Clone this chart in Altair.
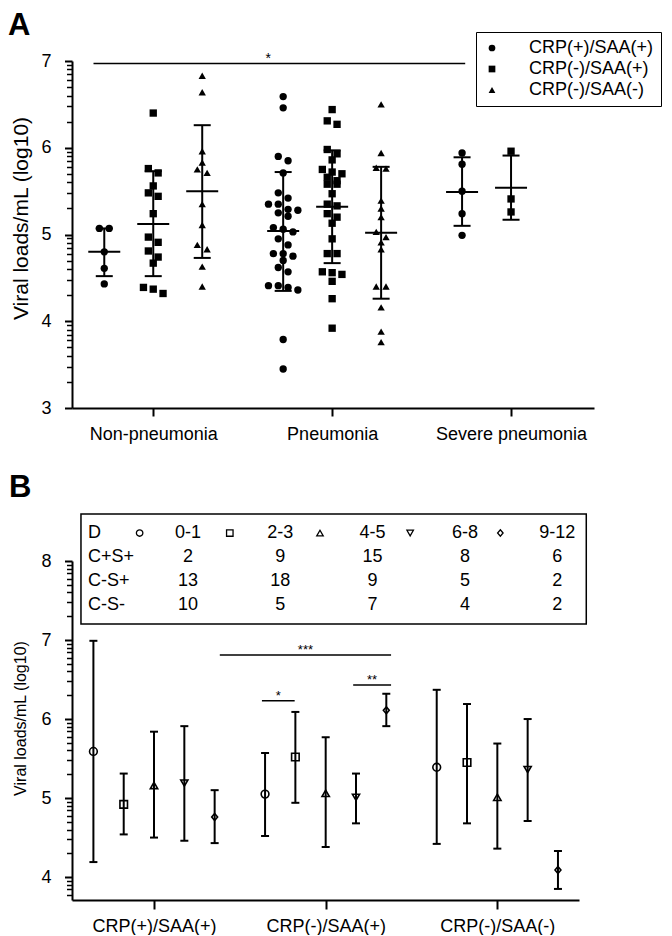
import json
import altair as alt
import numpy as np
import pandas as pd

FONT = "Liberation Sans"

# ---------------- Panel A: individual viral loads (log10) ----------------
group_names = ["Non-pneumonia", "Pneumonia", "Severe pneumonia"]
cat_names = ["CRP(+)/SAA(+)", "CRP(-)/SAA(+)", "CRP(-)/SAA(-)"]

nonpneu_cpsp = [5.07, 5.07, 4.80, 4.61, 4.43]
nonpneu_cmsp = [6.40, 5.76, 5.71, 5.56, 5.48, 5.44, 5.24, 4.97, 4.91, 4.81, 4.74,
                4.67, 4.39, 4.32, 4.37]
nonpneu_cmsm = [6.83, 6.64, 5.96, 5.83, 5.75, 5.71, 5.35, 5.11, 4.88, 4.83, 4.63, 4.40]
pneu_cpsp = [6.59, 6.46, 5.90, 5.85, 5.71, 5.48, 5.42, 5.35, 5.35, 5.29, 5.25, 5.21,
             5.28, 5.08, 5.03, 5.06, 4.95, 4.88, 4.78, 4.75, 4.78, 4.70, 4.62, 4.57,
             4.41, 4.36, 4.39, 4.41, 3.79, 3.45]
pneu_cmsp = [6.44, 6.31, 6.27, 5.98, 5.93, 5.86, 5.75, 5.72, 5.70, 5.66, 5.62, 5.58,
             5.58, 5.47, 5.35, 5.33, 5.24, 5.20, 5.13, 4.95, 4.78, 4.78, 4.57, 4.56,
             4.54, 4.46, 4.26, 3.92]
pneu_cmsm = [6.50, 5.94, 5.77, 5.76, 5.39, 5.30, 5.20, 5.03, 4.97, 4.91, 4.83, 4.40,
             4.40, 4.16, 3.88, 3.76]
severe_cpsp = [5.94, 5.81, 5.50, 5.24, 4.99]
severe_cmsp = [5.96, 5.41, 5.26]

# mean and mean +/- SD (order: group, category)
a_group = [0, 0, 0, 1, 1, 1, 2, 2]
a_cat = [0, 1, 2, 0, 1, 2, 0, 1]
a_mean = [4.80, 5.12, 5.50, 5.04, 5.32, 5.02, 5.49, 5.54]
a_upper = [5.07, 5.73, 6.26, 5.72, 5.97, 5.78, 5.89, 5.91]
a_lower = [4.52, 4.52, 4.73, 4.35, 4.67, 4.26, 5.10, 5.17]

a_sig_x1 = [-1.22]
a_sig_x2 = [6.37]
a_sig_y = [6.97]
a_sig_tx = [2.35]
a_sig_label = ["*"]

# ---------------- Panel B: mean +/- SD by day of illness ----------------
b_groups = ["CRP(+)/SAA(+)", "CRP(-)/SAA(+)", "CRP(-)/SAA(-)"]
b_days = ["0-1", "2-3", "4-5", "6-8", "9-12"]
b_mean_cpsp = [5.59, 4.92, 5.16, 5.19, 4.76]
b_upper_cpsp = [6.99, 5.31, 5.84, 5.91, 5.10]
b_lower_cpsp = [4.19, 4.54, 4.50, 4.46, 4.43]
b_mean_cmsp = [5.05, 5.52, 5.06, 5.01, 6.11]
b_upper_cmsp = [5.57, 6.09, 5.77, 5.31, 6.32]
b_lower_cmsp = [4.52, 4.94, 4.38, 4.68, 5.91]
b_mean_cmsm = [5.39, 5.45, 5.01, 5.36, 4.09]
b_upper_cmsm = [6.37, 6.19, 5.69, 6.00, 4.33]
b_lower_cmsm = [4.42, 4.68, 4.36, 4.71, 3.85]

table_header = "D"
table_rows = ["C+S+", "C-S+", "C-S-"]
table_cpsp = [2, 9, 15, 8, 6]
table_cmsp = [13, 18, 9, 5, 2]
table_cmsm = [10, 5, 7, 4, 2]

b_sig_x1 = [2.17, 3.56, 6.57]
b_sig_x2 = [7.82, 4.64, 7.82]
b_sig_y = [6.81, 6.23, 6.43]
b_sig_label = ["***", "*", "**"]

# ---------------- layout constants ----------------
A_STEP = 3.653
B_STEP = 5.663
WA, HA = 522, 347
WB, HB = 507, 339
xA = alt.Scale(domain=[-1.659, 9.0], nice=False, zero=False)
yA = alt.Scale(domain=[3, 7], nice=False, zero=False)
xB = alt.Scale(domain=[-2.706, 14.02], nice=False, zero=False)
yB = alt.Scale(domain=[3.71, 8], nice=False, zero=False)

TAB_Y = [8.354, 8.051, 7.741, 7.437]
TAB_LABEL_X = -2.18
TAB_SYM_X0, TAB_SYM_DX = -0.475, 2.975
TAB_NUM_X0, TAB_NUM_DX = 1.12, 3.045
TAB_BOX = dict(x=-2.41, x2=14.26, y=8.595, y2=7.203)
DIAMOND = "M0,-1L0.85,0L0,1L-0.85,0Z"


def swarm_offsets(vals, thr, step):
    order = sorted(range(len(vals)), key=lambda i: -vals[i])
    rows = []
    for i in order:
        if rows and rows[-1][0] - vals[i] < thr:
            rows[-1][1].append(i)
        else:
            rows.append([vals[i], [i]])
    offs = [0.0] * len(vals)
    for _, idx in rows:
        n = len(idx)
        for j, i in enumerate(idx):
            offs[i] = (j - (n - 1) / 2) * step
    return offs


# y axis: major ticks at integers, log-style minor ticks in between
major_a = [3, 4, 5, 6, 7]
major_b = [4, 5, 6, 7, 8]
ticks_a = major_a + [float(round(n + np.log10(k), 4))
                     for n in range(3, 7) for k in range(2, 10)]
ticks_b = major_b + [v for v in (float(round(n + np.log10(k), 4))
                                 for n in range(3, 8) for k in range(2, 10))
                     if 3.71 <= v <= 8]
IS_MAJOR = "abs(datum.value - round(datum.value)) < 0.0001"
tick_size = {"condition": {"test": IS_MAJOR, "value": 7.5}, "value": 5.5}
tick_width = {"condition": {"test": IS_MAJOR, "value": 2}, "value": 1.5}
label_y = "%s ? format(datum.value, 'd') : ''" % IS_MAJOR

label_expr_a = json.dumps(group_names) + "[round(datum.value / %s)]" % A_STEP
label_expr_b = json.dumps(b_groups) + "[round(datum.value / %s)]" % B_STEP

axA_x = alt.Axis(values=[0, A_STEP, 2 * A_STEP], labelExpr=label_expr_a, title=None,
                 tickSize=8, tickWidth=2, labelPadding=9, labelFontSize=18)
axA_y = alt.Axis(values=ticks_a, labelExpr=label_y, title="Viral loads/mL (log10)",
                 tickSize=tick_size, tickWidth=tick_width, labelPadding=13.5,
                 titlePadding=9, titleFontSize=21, labelFontSize=18, titleY=157)
axB_x = alt.Axis(values=[0, B_STEP, 2 * B_STEP], labelExpr=label_expr_b, title=None,
                 tickSize=9, tickWidth=2, labelPadding=8, labelFontSize=18)
axB_y = alt.Axis(values=ticks_b, labelExpr=label_y, title="Viral loads/mL (log10)",
                 tickSize=tick_size, tickWidth=tick_width, labelPadding=13.5,
                 titlePadding=12, titleFontSize=16, labelFontSize=18, titleY=157)


def XA(f):
    return alt.X(f, scale=xA, axis=axA_x)


def YA(f):
    return alt.Y(f, scale=yA, axis=axA_y)


def XB(f):
    return alt.X(f, scale=xB, axis=axB_x)


def YB(f):
    return alt.Y(f, scale=yB, axis=axB_y)


# ---------------- panel A frames ----------------
a_series = [(0, 0, nonpneu_cpsp), (0, 1, nonpneu_cmsp), (0, 2, nonpneu_cmsm),
            (1, 0, pneu_cpsp), (1, 1, pneu_cmsp), (1, 2, pneu_cmsm),
            (2, 0, severe_cpsp), (2, 1, severe_cmsp)]
rows = []
for g, c, vals in a_series:
    offs = swarm_offsets(vals, 0.075, 0.2)
    for v, o in zip(vals, offs):
        rows.append({"x": g * A_STEP + (c - 1) + o, "y": v, "cat": cat_names[c]})
dfA = pd.DataFrame(rows)

dfA_stats = pd.DataFrame({
    "x": [g * A_STEP + (c - 1) for g, c in zip(a_group, a_cat)],
    "mean": a_mean, "upper": a_upper, "lower": a_lower,
})
dfA_sig = pd.DataFrame({"x1": a_sig_x1, "x2": a_sig_x2, "y": a_sig_y,
                        "tx": a_sig_tx, "lab": a_sig_label})

shapeA = alt.Scale(domain=cat_names, range=["circle", "square", "triangle-up"])

pts_a = alt.Chart(dfA).mark_point(filled=True, color="black", opacity=1, size=54).encode(
    x=XA("x:Q"),
    y=YA("y:Q"),
    shape=alt.Shape("cat:N", scale=shapeA, legend=alt.Legend(
        orient="none", legendX=404, legendY=-29, title=None,
        strokeColor="black", padding=7, symbolSize=45, symbolStrokeWidth=0,
        symbolFillColor="black", labelFont=FONT, labelFontSize=18,
        labelColor="black", labelOffset=28, rowPadding=3)),
)

vbar_a = alt.Chart(dfA_stats).mark_rule(color="black", strokeWidth=2).encode(
    x=XA("x:Q"), y=YA("lower:Q"), y2="upper:Q")
mean_a = alt.Chart(dfA_stats).mark_tick(
    orient="horizontal", size=32, thickness=2, color="black", opacity=1).encode(
    x=XA("x:Q"), y=YA("mean:Q"))
capu_a = alt.Chart(dfA_stats).mark_tick(
    orient="horizontal", size=17, thickness=2, color="black", opacity=1).encode(
    x=XA("x:Q"), y=YA("upper:Q"))
capl_a = alt.Chart(dfA_stats).mark_tick(
    orient="horizontal", size=17, thickness=2, color="black", opacity=1).encode(
    x=XA("x:Q"), y=YA("lower:Q"))

sig_rule_a = alt.Chart(dfA_sig).mark_rule(color="black", strokeWidth=1.5).encode(
    x=XA("x1:Q"), x2="x2:Q", y=YA("y:Q"))
sig_text_a = alt.Chart(dfA_sig).mark_text(
    font=FONT, fontSize=14, baseline="alphabetic", dy=-1, color="black").encode(
    x=XA("tx:Q"), y=YA("y:Q"), text="lab:N")

letter_a = alt.Chart(pd.DataFrame({"t": ["A"]})).mark_text(
    font=FONT, fontSize=31, fontWeight="bold", align="left",
    baseline="alphabetic", color="black").encode(
    text="t:N", x=alt.value(-64), y=alt.value(-26))

panelA = alt.layer(pts_a, vbar_a, mean_a, capu_a, capl_a,
                   sig_rule_a, sig_text_a, letter_a).properties(width=WA, height=HA)

# ---------------- panel B frames ----------------
b_all = [(b_mean_cpsp, b_upper_cpsp, b_lower_cpsp),
         (b_mean_cmsp, b_upper_cmsp, b_lower_cmsp),
         (b_mean_cmsm, b_upper_cmsm, b_lower_cmsm)]
rows = []
for g, (m, u, l) in enumerate(b_all):
    for k in range(len(b_days)):
        rows.append({"x": g * B_STEP + (k - 2), "mean": m[k], "upper": u[k],
                     "lower": l[k], "day": b_days[k]})
dfB = pd.DataFrame(rows)

shapeB = alt.Scale(domain=b_days,
                   range=["circle", "square", "triangle-up", "triangle-down", DIAMOND])
sizeB = alt.Scale(domain=b_days, range=[60, 48, 60, 60, 68])

pts_b = alt.Chart(dfB).mark_point(
    filled=False, color="black", strokeWidth=1.6, opacity=1).encode(
    x=XB("x:Q"), y=YB("mean:Q"),
    shape=alt.Shape("day:N", scale=shapeB, legend=None),
    size=alt.Size("day:N", scale=sizeB, legend=None),
)
vbar_b = alt.Chart(dfB).mark_rule(color="black", strokeWidth=2).encode(
    x=XB("x:Q"), y=YB("lower:Q"), y2="upper:Q")
capu_b = alt.Chart(dfB).mark_tick(
    orient="horizontal", size=8, thickness=2, color="black", opacity=1).encode(
    x=XB("x:Q"), y=YB("upper:Q"))
capl_b = alt.Chart(dfB).mark_tick(
    orient="horizontal", size=8, thickness=2, color="black", opacity=1).encode(
    x=XB("x:Q"), y=YB("lower:Q"))

dfB_sig = pd.DataFrame({"x1": b_sig_x1, "x2": b_sig_x2, "y": b_sig_y, "lab": b_sig_label})
dfB_sig["xm"] = (dfB_sig["x1"] + dfB_sig["x2"]) / 2
sig_rule_b = alt.Chart(dfB_sig).mark_rule(color="black", strokeWidth=1.5).encode(
    x=XB("x1:Q"), x2="x2:Q", y=YB("y:Q"))
sig_text_b = alt.Chart(dfB_sig).mark_text(
    font=FONT, fontSize=13, baseline="alphabetic", dy=-1, color="black").encode(
    x=XB("xm:Q"), y=YB("y:Q"), text="lab:N")

# table inside panel B
tab_box = alt.Chart(pd.DataFrame([TAB_BOX])).mark_rect(
    fillOpacity=0, stroke="black", strokeWidth=1.5).encode(
    x=XB("x:Q"), x2="x2:Q", y=YB("y:Q"), y2="y2:Q")

row_labels = [table_header] + table_rows
df_rowlab = pd.DataFrame({"x": [TAB_LABEL_X] * 4, "y": TAB_Y, "t": row_labels})
tab_rowlab = alt.Chart(df_rowlab).mark_text(
    font=FONT, fontSize=18, align="left", baseline="middle", color="black").encode(
    x=XB("x:Q"), y=YB("y:Q"), text="t:N")

cells = []
for i, d in enumerate(b_days):
    cx = TAB_NUM_X0 + i * TAB_NUM_DX
    cells.append({"x": cx, "y": TAB_Y[0], "t": d})
    for r, arr in enumerate([table_cpsp, table_cmsp, table_cmsm]):
        cells.append({"x": cx, "y": TAB_Y[r + 1], "t": str(arr[i])})
tab_cells = alt.Chart(pd.DataFrame(cells)).mark_text(
    font=FONT, fontSize=18, align="center", baseline="middle", color="black").encode(
    x=XB("x:Q"), y=YB("y:Q"), text="t:N")

df_sym = pd.DataFrame({"x": [TAB_SYM_X0 + i * TAB_SYM_DX for i in range(len(b_days))],
                       "y": [TAB_Y[0]] * len(b_days), "day": b_days})
tab_sym = alt.Chart(df_sym).mark_point(
    filled=False, color="black", strokeWidth=1.3, opacity=1, size=42).encode(
    x=XB("x:Q"), y=YB("y:Q"),
    shape=alt.Shape("day:N", scale=shapeB, legend=None))

letter_b = alt.Chart(pd.DataFrame({"t": ["B"]})).mark_text(
    font=FONT, fontSize=31, fontWeight="bold", align="left",
    baseline="alphabetic", color="black").encode(
    text="t:N", x=alt.value(-63), y=alt.value(-64))

panelB = alt.layer(pts_b, vbar_b, capu_b, capl_b, sig_rule_b, sig_text_b,
                   tab_box, tab_rowlab, tab_cells, tab_sym, letter_b).properties(
    width=WB, height=HB)

chart = alt.vconcat(panelA, panelB, spacing=29).resolve_scale(
    x="independent", y="independent", shape="independent", size="independent"
).resolve_legend(shape="independent", size="independent").properties(
    padding={"left": 0, "top": 2, "right": 0, "bottom": 0},
    background="white",
).configure_axis(
    grid=False, domainColor="black", domainWidth=2, tickColor="black",
    labelColor="black", labelFont=FONT, titleFont=FONT, titleColor="black",
    titleFontWeight="normal", labelOverlap=False, labelBound=False,
).configure_view(stroke=None)

chart.save("out.html", embed_options={"renderer": "svg", "actions": False})
